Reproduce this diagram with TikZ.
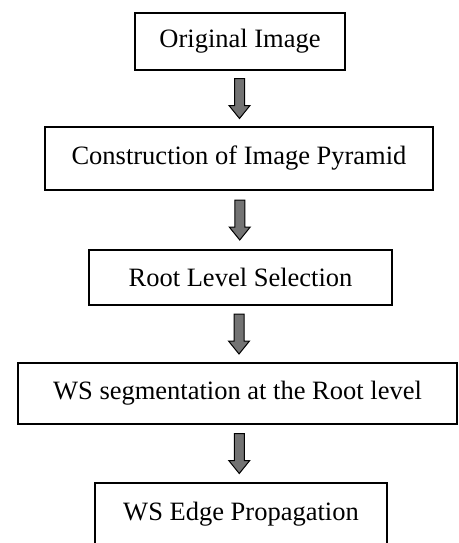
\documentclass[tikz,border=0pt]{standalone}
\usepackage{fontspec}
\setmainfont{Liberation Serif}
\usetikzlibrary{calc}
\tikzset{every node/.append style={font=\fontsize{26.5}{30}\selectfont}}

\begin{document}
\begin{tikzpicture}[x=1pt,y=-1pt,blk/.style={draw,line width=1.5pt,inner sep=0pt,align=center},
  arr/.style={draw=black,line width=1pt,fill=black!55,to path={let \p1=($(\tikztostart.south)!0.5!(\tikztotarget.north)$) in
    (\x1-5pt,\y1+20pt) -- (\x1-5pt,\y1-7pt) -- (\x1-10.5pt,\y1-7pt) -- (\x1,\y1-20pt) -- (\x1+10.5pt,\y1-7pt) -- (\x1+5pt,\y1-7pt) -- (\x1+5pt,\y1+20pt) -- cycle}}]
\useasboundingbox (0,0) rectangle (458,543); \clip (0,0) rectangle (458,543);
\node[blk,minimum width=210pt,minimum height=57pt] (orig) at (240,41.5) {Original Image};
\node[blk,minimum width=388pt,minimum height=63pt] (pyr) at (239,158.5) {Construction of Image Pyramid};
\node[blk,minimum width=303pt,minimum height=55pt] (root) at (240.5,277.5) {Root Level Selection};
\node[blk,minimum width=439pt,minimum height=61pt] (seg) at (237.5,393.5) {WS segmentation at the Root level};
\node[blk,minimum width=292pt,minimum height=62pt] (prop) at (241,514) {WS Edge Propagation};
\draw[arr] (orig) to (pyr); \draw[arr] (pyr) to (root);
\draw[arr] (root) to (seg); \draw[arr] (seg) to (prop);
\end{tikzpicture}
\end{document}
